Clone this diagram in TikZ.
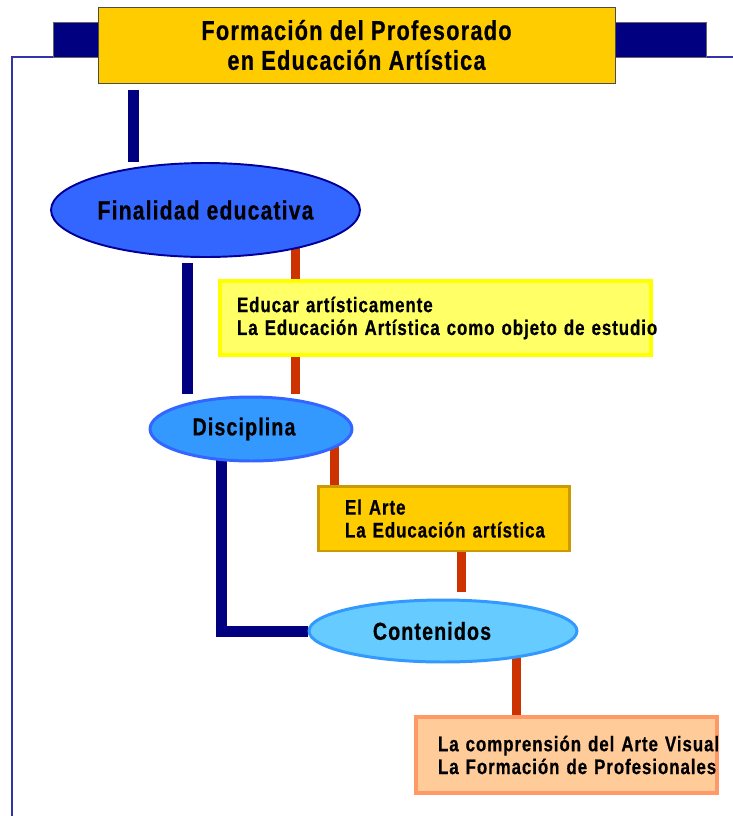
\documentclass[tikz,border=0pt]{standalone}
\usepackage{fontspec}
\setmainfont{Liberation Sans}
\newfontfamily\condfont{Liberation Sans}[FakeStretch=0.8,LetterSpace=4.5,FakeBold=0.6]
\usetikzlibrary{shapes.geometric,backgrounds,calc}

\definecolor{navyc}{HTML}{000080}
\definecolor{framec}{HTML}{3333AA}
\definecolor{goldc}{HTML}{FFCC00}
\definecolor{redc}{HTML}{CC3300}
\definecolor{finfill}{HTML}{3366FF}
\definecolor{findraw}{HTML}{000099}
\definecolor{educfill}{HTML}{FFFF66}
\definecolor{educdraw}{HTML}{FFFF00}
\definecolor{discfill}{HTML}{3399FF}
\definecolor{discdraw}{HTML}{3366FF}
\definecolor{artedraw}{HTML}{CC9900}
\definecolor{contfill}{HTML}{66CCFF}
\definecolor{contdraw}{HTML}{3399FF}
\definecolor{compfill}{HTML}{FFCC99}
\definecolor{compdraw}{HTML}{FF9966}

\tikzset{
    ovalnode/.style={
        ellipse,
        inner sep=0pt,
        font=\condfont\bfseries\fontsize{14}{16}\selectfont
    },
    textbox/.style={
        rectangle,
        align=left,
        inner ysep=0pt,
        font=\condfont\bfseries\fontsize{12}{13}\selectfont
    },
    navylink/.style={
        draw=navyc,
        line width=0.22cm
    },
    redlink/.style={
        draw=redc,
        line width=0.18cm
    }
}

\begin{document}
\begin{tikzpicture}[x=0.02cm, y=-0.02cm]

\useasboundingbox (0,0) rectangle (733,816);

% ---------------- TITOL ----------------

\node[
    draw=black!70,
    fill=goldc,
    minimum width=10.34cm,
    minimum height=1.52cm,
    align=center,
    font=\condfont\bfseries\fontsize{15.5}{17}\selectfont
] (formacion) at (356.5,45) {Formación del Profesorado\\en Educación Artística};

% ---------------- NIVELLS ----------------

\node[
    ovalnode,
    fill=finfill,
    draw=findraw,
    line width=1.1pt,
    minimum width=6.18cm,
    minimum height=1.88cm,
    font=\condfont\bfseries\fontsize{15}{17}\selectfont
] (finalidad) at (205.5,210) {Finalidad educativa};

\node[
    textbox,
    fill=educfill,
    draw=educdraw,
    line width=2.3pt,
    text width=7.94cm,
    inner xsep=0.34cm,
    minimum height=1.48cm
] (educar) at (435.5,318) {\mbox{Educar artísticamente}\\\mbox{La Educación Artística como objeto de estudio}};

\node[
    ovalnode,
    fill=discfill,
    draw=discdraw,
    line width=1.7pt,
    minimum width=4.04cm,
    minimum height=1.28cm
] (disciplina) at (251,429) {Disciplina\kern0.28cm};

\node[
    textbox,
    fill=goldc,
    draw=artedraw,
    line width=1.7pt,
    text width=3.96cm,
    inner xsep=0.54cm,
    minimum height=1.3cm
] (arte) at (444,518.5) {\mbox{El Arte}\\\mbox{La Educación artística}};

\node[
    ovalnode,
    fill=contfill,
    draw=contdraw,
    line width=1.7pt,
    minimum width=5.36cm,
    minimum height=1.24cm
] (contenidos) at (443,631) {Contenidos\kern0.44cm};

\node[
    textbox,
    fill=compfill,
    draw=compdraw,
    line width=2.3pt,
    text width=5.14cm,
    inner xsep=0.44cm,
    minimum height=1.52cm
] (comprension) at (566.5,755) {\mbox{La comprensión del Arte Visual}\\\mbox{La Formación de Profesionales}};

% ---------------- FONS I CONNEXIONS ----------------

\begin{scope}[on background layer]

    % Marc
    \draw[
        framec,
        line width=1.1pt
    ] (733,57) -- (12,57) -- (12,816);

    % Barres del titol
    \filldraw[
        fill=navyc,
        draw=black!60
    ] (53,22) rectangle (120,57);
    \filldraw[
        fill=navyc,
        draw=black!60
    ] (600,22) rectangle (706,57);

    % Branca blava
    \coordinate (t1) at ($(formacion.south west)+(35.5,7)$);
    \draw[navylink] (t1) -- (t1 |- finalidad.north);

    \coordinate (f1) at ($(finalidad.south)+(-18,5)$);
    \draw[
        navylink,
        shorten >=0.04cm
    ] (f1) -- (f1 |- disciplina.north);

    \draw[navylink] ($(disciplina.center)+(-29.5,0)$) |- (contenidos.west);

    % Branca vermella
    \coordinate (g1) at ($(educar.north west)+(77.5,0)$);
    \draw[redlink] (g1 |- finalidad.center) -- (g1);

    \coordinate (g2) at ($(educar.south west)+(77.5,0)$);
    \draw[
        redlink,
        shorten >=0.04cm
    ] (g2) -- (g2 |- disciplina.north);

    \coordinate (a1) at ($(arte.north west)+(17.5,0)$);
    \draw[redlink] (a1 |- disciplina.center) -- (a1);

    \coordinate (a2) at ($(arte.south west)+(144.5,0)$);
    \draw[
        redlink,
        shorten >=0.14cm
    ] (a2) -- (a2 |- contenidos.north);

    \coordinate (c1) at ($(comprension.north west)+(102.5,0)$);
    \draw[redlink] (c1 |- contenidos.center) -- (c1);

\end{scope}

\end{tikzpicture}
\end{document}
